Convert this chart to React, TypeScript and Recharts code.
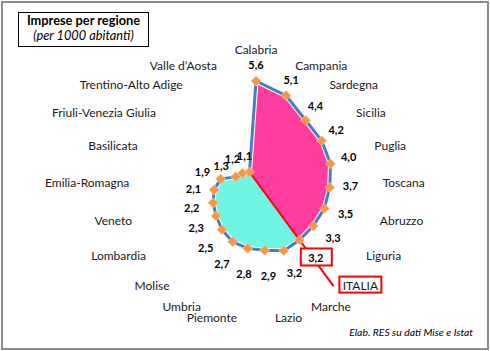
import React from 'react';
import { RadarChart, Radar, PolarAngleAxis, PolarRadiusAxis } from 'recharts';

// regioni ordinate per valore, con la media nazionale inserita nella sequenza
const regioni = [
  'Calabria',
  'Campania',
  'Sardegna',
  'Sicilia',
  'Puglia',
  'Toscana',
  'Abruzzo',
  'Liguria',
  'ITALIA',
  'Marche',
  'Lazio',
  'Piemonte',
  'Umbria',
  'Molise',
  'Lombardia',
  'Veneto',
  'Emilia-Romagna',
  'Basilicata',
  'Friuli-Venezia Giulia',
  'Trentino-Alto Adige',
  'Valle d’Aosta',
];
const impresePer1000 = [5.6, 5.1, 4.4, 4.2, 4.0, 3.7, 3.5, 3.3, 3.2, 3.2, 2.9, 2.8, 2.7, 2.5, 2.3, 2.2, 2.1, 1.9, 1.3, 1.2, 1.1];
const etichettaMedia = 'ITALIA';
const dominio = [0, 6];

const data = regioni.map((regione, i) => ({ regione, valore: impresePer1000[i] }));

const CX = 256;
const CY = 193;
const RAGGIO = 120;
const R_ETICHETTE = 127;
const FONT = 'Lato, "Open Sans", sans-serif';

const fmt = (v: number) => v.toFixed(1).replace('.', ',');

const CategoryTick = (props: any) => {
  const { payload } = props;
  const ang = (payload.coordinate * Math.PI) / 180;
  const dx = Math.cos(ang);
  const dy = -Math.sin(ang);
  // in alto le etichette stanno un po' più lontane
  const r = R_ETICHETTE + (dy < 0 ? 7 * Math.pow(dy, 4) : 0);
  const x = CX + r * dx;
  const y = CY + r * dy;
  const anchor = dx > 0.05 ? 'start' : dx < -0.05 ? 'end' : 'middle';
  const ty = (anchor === 'middle' ? y + (dy < 0 ? -9 : 8) : y) - 1;

  if (payload.value === etichettaMedia) {
    return (
      <g>
        <rect x={x - 3} y={ty - 8.5} width={42} height={16} fill="#fff" stroke="#ff0000" strokeWidth={2} />
        <text x={x + 18} y={ty} textAnchor="middle" dominantBaseline="central" fontSize={12} fill="#1a1a1a" fontFamily={FONT}>
          {payload.value}
        </text>
      </g>
    );
  }
  return (
    <text x={x} y={ty} textAnchor={anchor} dominantBaseline="central" fontSize={12} fill="#1a1a1a" fontFamily={FONT}>
      {payload.value}
    </text>
  );
};

const RadarShape = (props: any) => {
  const pts: { x: number; y: number }[] = props.points || [];
  if (!pts.length) return null;
  const iMedia = regioni.indexOf(etichettaMedia);
  const last = pts.length - 1;
  const toStr = (arr: { x: number; y: number }[]) => arr.map((p) => `${p.x},${p.y}`).join(' ');

  const sopra = [pts[last], ...pts.slice(0, iMedia + 1)];
  const sotto = pts.slice(iMedia);

  const a = pts[last];
  const b = pts[iMedia];
  const t = 1.68;
  const lineEnd = { x: a.x + (b.x - a.x) * t, y: a.y + (b.y - a.y) * t };

  return (
    <g>
      <polygon points={toStr(sopra)} fill="#ff3d9e" stroke="none" />
      <polygon points={toStr(sotto)} fill="#6ff5e2" stroke="none" />
      <polygon points={toStr(pts)} fill="none" stroke="#fff" strokeWidth={5} strokeLinejoin="round" />
      <polygon points={toStr(pts)} fill="none" stroke="#4a7ebb" strokeWidth={3} strokeLinejoin="round" />
      <line x1={a.x} y1={a.y} x2={lineEnd.x} y2={lineEnd.y} stroke="#ff0000" strokeWidth={2} />
      {pts.map((p, i) => (
        <polygon
          key={`d-${i}`}
          points={`${p.x},${p.y - 5} ${p.x + 5},${p.y} ${p.x},${p.y + 5} ${p.x - 5},${p.y}`}
          fill="#f79646"
          stroke="#fbc89c"
          strokeWidth={0.8}
        />
      ))}
      {pts.map((p, i) => {
        const vx = p.x - CX;
        const vy = p.y - CY;
        const len = Math.sqrt(vx * vx + vy * vy) || 1;
        const ux = vx / len;
        const uy = vy / len;
        const d = 21 + 4 * uy;
        const lx = p.x + ux * d;
        const ly = p.y + uy * d;
        const testo = fmt(impresePer1000[i]);
        return (
          <g key={`l-${i}`}>
            {i === iMedia && (
              <rect x={lx - 15} y={ly - 9} width={31} height={17} fill="#fff" stroke="#ff0000" strokeWidth={2} />
            )}
            <text
              x={lx}
              y={ly}
              textAnchor="middle"
              dominantBaseline="central"
              fontSize={11}
              fontWeight="bold"
              fill="#000"
              fontFamily={FONT}
            >
              {testo}
            </text>
          </g>
        );
      })}
    </g>
  );
};

export default function App() {
  return (
    <div style={{ position: 'absolute', left: 0, top: 0, width: 490, height: 351, background: '#fff', fontFamily: FONT }}>
      <div
        style={{
          position: 'absolute',
          left: 1,
          top: 1,
          width: 488,
          height: 349,
          border: '2px solid #8a8a8a',
          boxSizing: 'border-box',
        }}
      />
      <RadarChart
        width={490}
        height={351}
        data={data}
        cx={CX}
        cy={CY}
        outerRadius={RAGGIO}
        margin={{ top: 0, right: 0, bottom: 0, left: 0 }}
        style={{ position: 'absolute', left: 0, top: 0 }}
      >
        <PolarRadiusAxis domain={dominio} tick={false} axisLine={false} />
        <PolarAngleAxis dataKey="regione" axisLine={false} tickLine={false} tick={CategoryTick} />
        <Radar dataKey="valore" isAnimationActive={false} shape={RadarShape} dot={false} />
      </RadarChart>
      <div
        style={{
          position: 'absolute',
          left: 18,
          top: 12,
          width: 131,
          height: 35,
          border: '1.5px solid #000',
          boxSizing: 'border-box',
          textAlign: 'center',
          color: '#000',
          paddingTop: 0,
        }}
      >
        <div style={{ fontSize: 12.8, fontWeight: 'bold', lineHeight: '15px' }}>Imprese per regione</div>
        <div style={{ fontSize: 12.8, fontStyle: 'italic', lineHeight: '15px' }}>(per 1000 abitanti)</div>
      </div>
      <div
        style={{
          position: 'absolute',
          left: 300,
          width: 173,
          top: 326,
          textAlign: 'right',
          fontSize: 10.4,
          fontStyle: 'italic',
          color: '#000',
        }}
      >
        Elab. RES su dati Mise e Istat
      </div>
    </div>
  );
}
